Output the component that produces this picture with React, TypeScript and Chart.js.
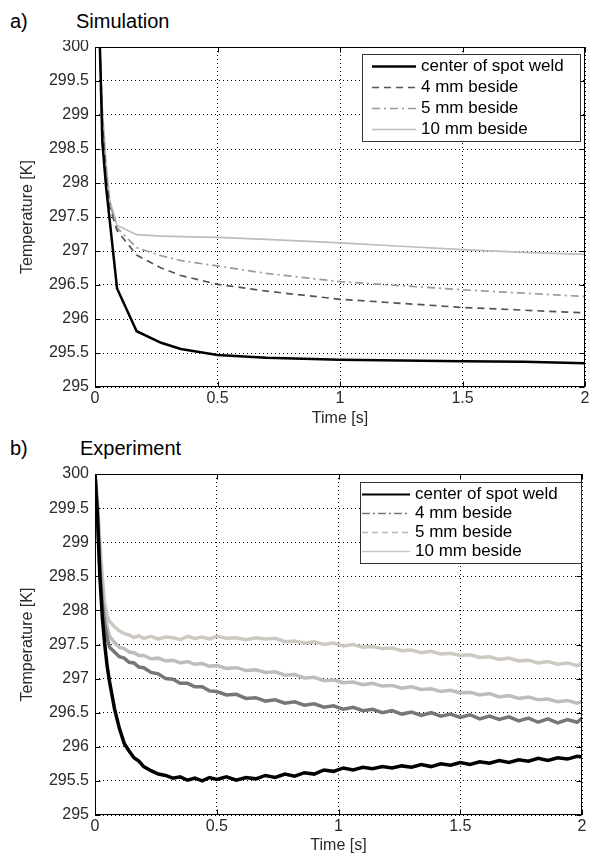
import React, { useEffect, useRef } from 'react';
import { Chart, registerables } from 'chart.js';

Chart.register(...registerables);

const FONT = '"Liberation Sans", Arial, Helvetica, sans-serif';

const seriesLabels = ['center of spot weld', '4 mm beside', '5 mm beside', '10 mm beside'];
const xMin = 0;
const xMax = 2;
const xStep = 0.5;
const yMin = 295;
const yMax = 300;
const yStep = 0.5;

// a) Simulation
const simTime = [0.02, 0.03, 0.045, 0.06, 0.09, 0.17, 0.27, 0.35, 0.5, 0.7, 1.0, 1.25, 1.5, 1.75, 2.0];
const simCenter = [300, 298.6, 297.95, 297.45, 296.45, 295.82, 295.65, 295.56, 295.47, 295.43, 295.4, 295.39, 295.38, 295.37, 295.35];
const sim4mm = [300, 298.9, 298.1, 297.65, 297.3, 296.94, 296.75, 296.64, 296.51, 296.41, 296.29, 296.23, 296.17, 296.13, 296.09];
const sim5mm = [300, 299.0, 298.2, 297.7, 297.34, 297.05, 296.93, 296.86, 296.78, 296.67, 296.55, 296.49, 296.43, 296.38, 296.33];
const sim10mm = [300, 299.1, 298.3, 297.75, 297.38, 297.24, 297.22, 297.21, 297.2, 297.17, 297.12, 297.07, 297.02, 296.98, 296.95];

// b) Experiment
const expTime = [0, 0.01, 0.02, 0.03, 0.04, 0.05, 0.06, 0.08, 0.1, 0.12, 0.14, 0.16, 0.18, 0.2, 0.23, 0.26, 0.29, 0.32, 0.35, 0.38, 0.41, 0.44, 0.47, 0.5, 0.54, 0.58, 0.62, 0.66, 0.7, 0.74, 0.78, 0.82, 0.86, 0.9, 0.94, 0.98, 1.02, 1.06, 1.1, 1.14, 1.18, 1.22, 1.26, 1.3, 1.34, 1.38, 1.42, 1.46, 1.5, 1.54, 1.58, 1.62, 1.66, 1.7, 1.74, 1.78, 1.82, 1.86, 1.9, 1.94, 1.98, 2.0];
const expCenter = [300.0, 299.4, 298.5, 297.9, 297.5, 297.18, 296.95, 296.56, 296.27, 296.05, 295.94, 295.84, 295.79, 295.71, 295.65, 295.6, 295.58, 295.54, 295.56, 295.51, 295.54, 295.5, 295.55, 295.52, 295.56, 295.51, 295.55, 295.53, 295.58, 295.55, 295.6, 295.57, 295.62, 295.6, 295.66, 295.64, 295.69, 295.66, 295.7, 295.68, 295.71, 295.69, 295.72, 295.7, 295.74, 295.71, 295.75, 295.73, 295.77, 295.74, 295.78, 295.76, 295.8, 295.77, 295.81, 295.79, 295.83, 295.8, 295.84, 295.82, 295.86, 295.85];
const exp4mm = [300.0, 299.4, 298.6, 298.1, 297.8, 297.6, 297.46, 297.39, 297.32, 297.3, 297.24, 297.23, 297.17, 297.16, 297.09, 297.07, 297.0, 296.99, 296.93, 296.93, 296.88, 296.88, 296.82, 296.81, 296.76, 296.77, 296.71, 296.72, 296.67, 296.69, 296.64, 296.66, 296.61, 296.63, 296.58, 296.6, 296.55, 296.58, 296.53, 296.55, 296.5, 296.53, 296.48, 296.51, 296.46, 296.5, 296.45, 296.48, 296.43, 296.47, 296.41, 296.45, 296.4, 296.44, 296.38, 296.42, 296.36, 296.41, 296.35, 296.4, 296.36, 296.42];
const exp5mm = [300.0, 299.5, 298.8, 298.3, 297.95, 297.75, 297.62, 297.53, 297.46, 297.44, 297.39, 297.38, 297.34, 297.34, 297.29, 297.3, 297.26, 297.27, 297.23, 297.25, 297.21, 297.22, 297.18, 297.19, 297.15, 297.16, 297.12, 297.13, 297.09, 297.1, 297.05, 297.06, 297.01, 297.02, 296.97, 296.98, 296.94, 296.95, 296.91, 296.93, 296.89, 296.9, 296.86, 296.88, 296.84, 296.85, 296.81, 296.83, 296.79, 296.8, 296.76, 296.78, 296.73, 296.75, 296.71, 296.73, 296.69, 296.7, 296.66, 296.68, 296.64, 296.66];
const exp10mm = [300.0, 299.6, 299.0, 298.5, 298.1, 297.92, 297.84, 297.76, 297.7, 297.66, 297.64, 297.6, 297.63, 297.59, 297.62, 297.58, 297.61, 297.6, 297.57, 297.62, 297.59, 297.61, 297.58, 297.62, 297.59, 297.6, 297.57, 297.6, 297.58, 297.59, 297.54, 297.55, 297.52, 297.54, 297.5, 297.52, 297.48, 297.5, 297.46, 297.47, 297.44, 297.45, 297.41, 297.42, 297.38, 297.4, 297.36, 297.37, 297.34, 297.35, 297.31, 297.32, 297.28, 297.3, 297.26, 297.27, 297.23, 297.25, 297.21, 297.23, 297.19, 297.22];

type LineStyle = { color: string; width: number; dash: number[] };

const simStyles: LineStyle[] = [
  { color: '#000000', width: 2.5, dash: [] },
  { color: '#555555', width: 1.7, dash: [7, 5] },
  { color: '#9a9a9a', width: 1.7, dash: [8, 4, 2, 4] },
  { color: '#bdbdbd', width: 1.7, dash: [] },
];
const expStyles: LineStyle[] = [
  { color: '#000000', width: 3.5, dash: [] },
  { color: '#777777', width: 3.5, dash: [] },
  { color: '#bdbdbd', width: 3.5, dash: [] },
  { color: '#cdc9c2', width: 3.5, dash: [] },
];
const expLegendStyles: LineStyle[] = [
  { color: '#000000', width: 2, dash: [] },
  { color: '#777777', width: 1.7, dash: [8, 3, 2, 3] },
  { color: '#bbbbbb', width: 1.7, dash: [6, 4] },
  { color: '#c8c8c8', width: 1.7, dash: [] },
];

const framePlugin = {
  id: 'frame',
  afterDatasetsDraw(chart: any) {
    const { ctx, chartArea: a, scales } = chart;
    ctx.save();
    ctx.strokeStyle = '#000';
    ctx.lineWidth = 1;
    ctx.setLineDash([]);
    const L = Math.round(a.left) + 0.5;
    const R = Math.round(a.right) - 0.5;
    const T = Math.round(a.top) + 0.5;
    const B = Math.round(a.bottom) - 0.5;
    ctx.strokeRect(L, T, R - L, B - T);
    const tl = 5;
    ctx.beginPath();
    scales.x.ticks.forEach((t: any) => {
      const px = Math.round(scales.x.getPixelForValue(t.value)) + 0.5;
      ctx.moveTo(px, B);
      ctx.lineTo(px, B - tl);
      ctx.moveTo(px, T);
      ctx.lineTo(px, T + tl);
    });
    scales.y.ticks.forEach((t: any) => {
      const py = Math.round(scales.y.getPixelForValue(t.value)) + 0.5;
      ctx.moveTo(L, py);
      ctx.lineTo(L + tl, py);
      ctx.moveTo(R, py);
      ctx.lineTo(R - tl, py);
    });
    ctx.stroke();
    ctx.restore();
  },
  afterDraw(chart: any, _args: any, opts: any) {
    if (!opts || !opts.items) return;
    const { ctx, chartArea: a } = chart;
    const right = Math.round(a.right) - opts.offRight;
    const left = right - opts.width;
    const top = Math.round(a.top) + opts.offTop;
    const height = opts.firstRow * 2 + opts.rowH * (opts.items.length - 1);
    ctx.save();
    ctx.fillStyle = '#fff';
    ctx.fillRect(left, top, opts.width, height);
    ctx.strokeStyle = '#333';
    ctx.lineWidth = 1;
    ctx.setLineDash([]);
    ctx.strokeRect(left + 0.5, top + 0.5, opts.width, height);
    ctx.font = `${opts.fontSize}px ${FONT}`;
    ctx.textBaseline = 'middle';
    ctx.textAlign = 'left';
    opts.items.forEach((it: any, i: number) => {
      const y = Math.round(top + opts.firstRow + i * opts.rowH) + 0.5;
      ctx.beginPath();
      ctx.strokeStyle = it.color;
      ctx.lineWidth = it.width;
      ctx.setLineDash(it.dash);
      ctx.moveTo(left + opts.lineX0, y);
      ctx.lineTo(left + opts.lineX1, y);
      ctx.stroke();
      ctx.setLineDash([]);
      ctx.fillStyle = '#000';
      ctx.fillText(it.label, left + opts.textX, y);
    });
    ctx.restore();
  },
};

function buildConfig(
  time: number[],
  series: number[][],
  styles: LineStyle[],
  legendStyles: LineStyle[],
  axisH: number,
  padTop: number,
  padRight: number,
  titleBottomPad: number,
  legendGeom: any
) {
  const datasets = series.map((vals, i) => ({
    label: seriesLabels[i],
    data: time.map((t, j) => ({ x: t, y: vals[j] })),
    borderColor: styles[i].color,
    borderWidth: styles[i].width,
    borderDash: styles[i].dash,
    pointRadius: 0,
    tension: 0,
    fill: false,
  }));
  const tickFont = { family: FONT, size: 16 };
  const titleFont = { family: FONT, size: 16 };
  return {
    type: 'line',
    data: { datasets },
    plugins: [framePlugin],
    options: {
      animation: false,
      responsive: false,
      maintainAspectRatio: false,
      layout: { padding: { top: padTop, right: padRight, left: 0, bottom: 0 } },
      plugins: {
        legend: { display: false },
        tooltip: { enabled: false },
        frame: {
          ...legendGeom,
          items: seriesLabels.map((label, i) => ({ label, ...legendStyles[i] })),
        },
      },
      scales: {
        x: {
          type: 'linear',
          min: xMin,
          max: xMax,
          ticks: {
            stepSize: xStep,
            color: '#2a2a2a',
            font: tickFont,
            padding: 2,
            maxRotation: 0,
            callback: (v: any) => String(Number(v)),
          },
          grid: { color: '#000', lineWidth: 1, drawTicks: false },
          border: { display: false, dash: [1, 3] },
          title: { display: true, text: 'Time [s]', color: '#2a2a2a', font: titleFont, padding: { top: 0, bottom: titleBottomPad } },
          afterFit: (s: any) => {
            s.height = axisH;
            s.paddingLeft = 0;
            s.paddingRight = 0;
          },
        },
        y: {
          type: 'linear',
          min: yMin,
          max: yMax,
          ticks: {
            stepSize: yStep,
            color: '#2a2a2a',
            font: tickFont,
            padding: 6,
            callback: (v: any) => String(Number(v)),
          },
          grid: { color: '#000', lineWidth: 1, drawTicks: false },
          border: { display: false, dash: [1, 3] },
          title: { display: true, text: 'Temperature [K]', color: '#2a2a2a', font: titleFont, padding: { top: 18, bottom: 0 } },
          afterFit: (s: any) => {
            s.width = 95;
            s.paddingTop = 0;
            s.paddingBottom = 0;
          },
        },
      },
    },
  };
}

function Panel(props: { top: number; height: number; config: any }) {
  const ref = useRef<HTMLCanvasElement | null>(null);
  useEffect(() => {
    if (!ref.current) return;
    const chart = new Chart(ref.current, props.config);
    return () => chart.destroy();
  }, []);
  return (
    <canvas
      ref={ref}
      width={589}
      height={props.height}
      style={{ position: 'absolute', left: 0, top: props.top, width: 589, height: props.height, display: 'block' }}
    />
  );
}

const labelStyle = (left: number, top: number): React.CSSProperties => ({
  position: 'absolute',
  left,
  top,
  fontFamily: FONT,
  fontSize: 20,
  lineHeight: '20px',
  color: '#000',
  whiteSpace: 'nowrap',
});

export default function App() {
  const simConfig = buildConfig(
    simTime,
    [simCenter, sim4mm, sim5mm, sim10mm],
    simStyles,
    simStyles,
    48,
    7,
    4,
    7,
    { offRight: 5, offTop: 7, width: 218, rowH: 21, firstRow: 12, lineX0: 10, lineX1: 54, textX: 59, fontSize: 17 }
  );
  const expConfig = buildConfig(
    expTime,
    [expCenter, exp4mm, exp5mm, exp10mm],
    expStyles,
    expLegendStyles,
    44,
    12,
    7,
    4,
    { offRight: 1, offTop: 8, width: 221, rowH: 19, firstRow: 12, lineX0: 2, lineX1: 50, textX: 55, fontSize: 17 }
  );
  return (
    <div style={{ position: 'absolute', left: 0, top: 0, width: 589, height: 859, background: '#fff', overflow: 'hidden' }}>
      <div style={labelStyle(10, 11)}>a)</div>
      <div style={labelStyle(76, 11)}>Simulation</div>
      <Panel top={40} height={395} config={simConfig} />
      <div style={labelStyle(10, 438)}>b)</div>
      <div style={labelStyle(80, 438)}>Experiment</div>
      <Panel top={462} height={397} config={expConfig} />
    </div>
  );
}
